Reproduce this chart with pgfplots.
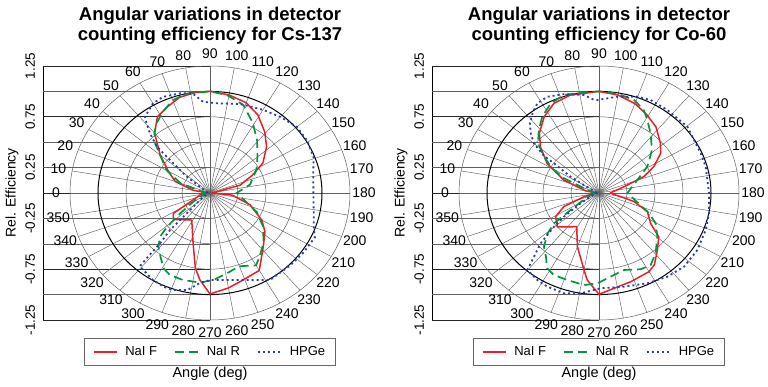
\documentclass[border=0pt]{standalone}
\usepackage{fontspec}
\setmainfont{Liberation Sans}
\usepackage{pgfplots}
\usepackage{pgfplotstable}
\pgfplotsset{compat=1.18}

\definecolor{cR}{RGB}{235,30,40}
\definecolor{cG}{RGB}{0,150,60}
\definecolor{cB}{RGB}{40,60,175}
\definecolor{gridc}{RGB}{95,95,95}

% Cs-137 -------------------------------------------------
\pgfplotstableread{
a r
0 0.02
10 0.15
20 0.33
30 0.43
40 0.58
50 0.77
58 0.885
66 0.93
74 0.98
83 1.0
90 1.0
100 0.98
110 0.945
119 0.88
129 0.776
138 0.68
148 0.557
155 0.42
164 0.28
180 0.02
186 0.2
198 0.376
210 0.535
218 0.623
228 0.711
240 0.88
251 0.906
260 0.949
270 0.994
276 0.861
280 0.752
287 0.517
301.5 0.312
321.5 0.418
328.5 0.383
330 0.3
347 0.09
360 0.02
}\csF
\pgfplotstableread{
a r
0 0.02
10 0.07
20 0.28
30 0.448
45 0.693
50 0.771
55 0.835
62 0.902
70 0.972
78 1.0
90 1.0
99 0.976
109 0.916
119 0.788
129 0.668
140 0.553
151 0.474
167 0.366
180 0.238
204 0.456
215 0.58
226 0.687
235 0.77
240 0.822
250 0.767
259 0.804
268 0.857
276 0.887
286 0.889
294 0.883
299 0.85
305 0.77
311 0.701
316 0.62
319 0.51
323 0.334
330 0.172
342 0.063
360 0.02
}\csR
\pgfplotstableread{
a r
0 0.02
20 0.03
35 0.12
38 0.263
42.7 0.526
44 0.659
47.6 0.795
50.5 0.889
52.3 0.949
60 1.018
66 1.035
75 1.017
81 0.992
86 0.9
94 0.885
107 0.916
120 0.946
130 0.977
140 1.013
149 1.009
159 0.99
168 0.943
180 0.923
190 0.94
200 0.985
205 1.033
215 1.02
225 1.01
238 1.01
250 0.91
260 0.869
270 0.856
276 0.893
282 0.977
289 1.009
294 1.012
301 0.995
306 0.971
311 0.957
311.5 0.812
312 0.667
314.4 0.51
315.6 0.333
322 0.113
340 0.03
360 0.02
}\csH

% Co-60 --------------------------------------------------
\pgfplotstableread{
a r
0 0.02
10 0.12
22 0.338
32 0.546
41 0.692
48 0.795
57 0.897
65.5 0.97
75 0.997
90 1.0
100 0.979
110 0.937
119 0.881
128 0.826
138 0.737
144.6 0.676
152 0.555
158 0.433
164.5 0.232
180 0.1
195 0.324
203 0.469
213 0.55
219 0.687
227 0.765
235 0.862
240 0.894
252 0.918
262 0.948
270 0.997
277 0.863
280 0.77
290 0.563
301 0.387
318 0.499
329 0.452
337 0.34
345 0.139
360 0.02
}\coF
\pgfplotstableread{
a r
0 0.02
10 0.07
19 0.14
25 0.35
30 0.48
36 0.607
42 0.732
49 0.82
56 0.906
64 0.982
72 1.014
82 1.0
90 1.0
100 0.99
109 0.967
116 0.91
121 0.838
128 0.747
138 0.637
149 0.503
159.5 0.365
180 0.253
204 0.489
210.6 0.588
219.5 0.675
229.6 0.78
237 0.846
243.6 0.838
253.6 0.79
262.8 0.83
271 0.889
278.4 0.916
288.3 0.902
296.5 0.902
302 0.873
307 0.787
313 0.721
319 0.609
323.4 0.5
326.6 0.303
340 0.11
360 0.02
}\coR
\pgfplotstableread{
a r
0 0.02
20 0.04
30 0.15
32.3 0.299
36 0.497
36.5 0.607
40 0.759
44 0.847
48 0.922
53 0.985
58 1.04
64 1.054
72 1.023
82 0.974
86.6 0.925
89 0.915
99.8 0.962
109.8 1.008
116.7 1.025
126.7 1.02
140.4 1.024
156.7 0.989
164.8 0.987
180 0.982
191.5 1.002
201 1.02
212.6 1.042
223.7 1.05
233.5 1.025
244 0.988
256.4 0.949
269 0.938
279.4 1.0
287.6 1.035
296.6 1.031
302.8 1.018
310.2 0.992
316.5 0.718
320.4 0.521
323.3 0.39
328.4 0.193
340 0.05
360 0.02
}\coH

\pgfplotsset{
  polarpanel/.style={
    x=112pt, y=101.6pt,
    xmin=-1.49, xmax=1.6, ymin=-1.25, ymax=1.25,
    anchor=origin,
    axis x line=none,
    axis y line*=left,
    y axis line style={black, line width=0.7pt},
    ytick={-1.25,-0.75,-0.25,0.25,0.75,1.25},
    yticklabels={-1.25,-0.75,-0.25,0.25,0.75,1.25},
    yticklabel style={rotate=90, anchor=south, inner sep=0pt, font=\fontsize{13.5}{15}\selectfont},
    yticklabel shift=8pt,
    ytick style={draw=none},
    clip=false,
    legend columns=3,
    legend style={at={(axis cs:0,-1.565)}, anchor=center, draw=black!60, line width=0.6pt,
      font=\fontsize{13}{15}\selectfont, inner xsep=8pt, inner ysep=6.5pt,
      /tikz/every odd column/.append style={column sep=6pt},
      /tikz/every even column/.append style={column sep=15pt}},
    legend image code/.code={\draw[##1] (0pt,0pt) -- (23pt,0pt);},
  },
  sF/.style={cR, line width=1.5pt, line join=round},
  sR/.style={cG, line width=1.7pt, dash pattern=on 9pt off 5pt},
  sB/.style={cB, line width=1.8pt, dash pattern=on 2pt off 3pt},
}

\newcommand{\polargrid}{%
  \pgfplotsinvokeforeach{0.25,0.5,1.0,-0.25,-0.5,-1.0}{\draw[gridc, line width=0.5pt] (-1.49,##1) -- (0,##1);}
  \pgfplotsinvokeforeach{0.75,1.25,-0.75,-1.25}{\draw[black!85, line width=0.7pt] (-1.49,##1) -- (0,##1);}
  \draw[black!85, line width=0.7pt] (-1.49,0) -- (1.25,0);
  \pgfplotsinvokeforeach{0,10,...,350}{\draw[gridc, line width=0.45pt] (0,0) -- ({1.25*cos(##1)},{1.25*sin(##1)});}
  \pgfplotsinvokeforeach{0.25,0.5,0.75,1.25}{\draw[gridc, line width=0.5pt] (0,0) ellipse [x radius=##1*112pt, y radius=##1*101.6pt];}
  \draw[black, line width=1pt] (0,0) ellipse [x radius=112pt, y radius=101.6pt];
  \pgfplotsinvokeforeach{0,10,...,350}{\node[font=\fontsize{14}{16}\selectfont, inner sep=0pt] at ({-1.375*cos(##1)},{1.375*sin(##1)}) {##1};}
  \node[rotate=90, font=\fontsize{14}{16}\selectfont] at ([xshift=-31pt]axis cs:-1.49,0) {Rel. Efficiency};
  \node[font=\fontsize{14.5}{16}\selectfont, anchor=base] at (axis cs:0,-1.82) {Angle (deg)};
}

\begin{document}
\begin{tikzpicture}
\path[use as bounding box] (0,0) rectangle (768pt,386pt);

\begin{axis}[polarpanel, at={(210pt,193pt)}]
  \polargrid
  \addplot[sF] table[x expr={-\thisrow{r}*cos(\thisrow{a})}, y expr={\thisrow{r}*sin(\thisrow{a})}] {\csF};
  \addlegendentry{NaI F}
  \addplot[sR] table[x expr={-\thisrow{r}*cos(\thisrow{a})}, y expr={\thisrow{r}*sin(\thisrow{a})}] {\csR};
  \addlegendentry{NaI R}
  \addplot[sB] table[x expr={-\thisrow{r}*cos(\thisrow{a})}, y expr={\thisrow{r}*sin(\thisrow{a})}] {\csH};
  \addlegendentry{HPGe}
\end{axis}

\begin{axis}[polarpanel, at={(599pt,193pt)}]
  \polargrid
  \addplot[sF] table[x expr={-\thisrow{r}*cos(\thisrow{a})}, y expr={\thisrow{r}*sin(\thisrow{a})}] {\coF};
  \addlegendentry{NaI F}
  \addplot[sR] table[x expr={-\thisrow{r}*cos(\thisrow{a})}, y expr={\thisrow{r}*sin(\thisrow{a})}] {\coR};
  \addlegendentry{NaI R}
  \addplot[sB] table[x expr={-\thisrow{r}*cos(\thisrow{a})}, y expr={\thisrow{r}*sin(\thisrow{a})}] {\coH};
  \addlegendentry{HPGe}
\end{axis}

\node[font=\bfseries\fontsize{18.5}{20}\selectfont, anchor=base] at (210pt,365.3pt) {Angular variations in detector};
\node[font=\bfseries\fontsize{18.5}{20}\selectfont, anchor=base] at (210pt,345.3pt) {counting efficiency for Cs-137};
\node[font=\bfseries\fontsize{18.5}{20}\selectfont, anchor=base] at (599pt,365.3pt) {Angular variations in detector};
\node[font=\bfseries\fontsize{18.5}{20}\selectfont, anchor=base] at (599pt,345.3pt) {counting efficiency for Co-60};
\end{tikzpicture}
\end{document}
